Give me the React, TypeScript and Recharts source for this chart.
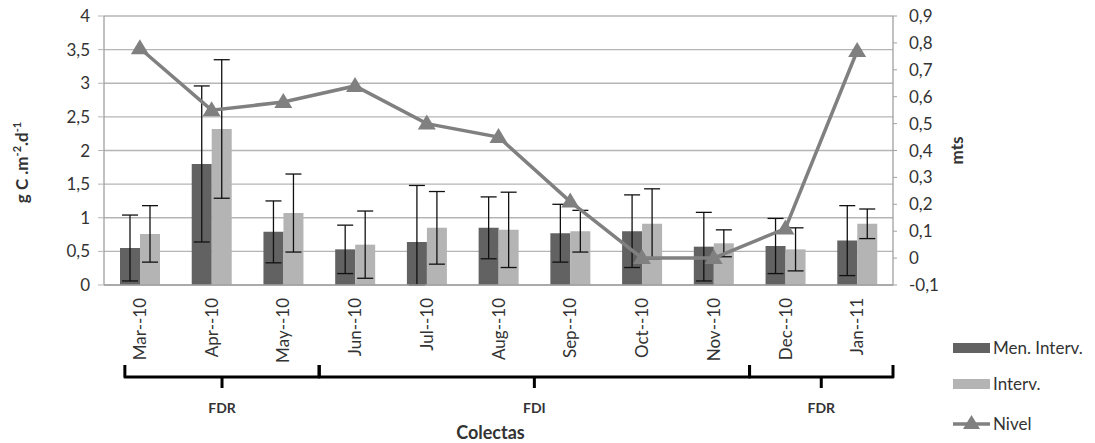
import React from "react";
import {
  ComposedChart,
  Bar,
  Line,
  XAxis,
  YAxis,
  CartesianGrid,
  ErrorBar,
  Legend,
  Label,
} from "recharts";

const months = [
  "Mar--10", "Apr--10", "May--10", "Jun--10", "Jul--10", "Aug--10",
  "Sep--10", "Oct--10", "Nov--10", "Dec--10", "Jan--11",
];
const menInterv = [0.55, 1.8, 0.79, 0.53, 0.64, 0.85, 0.77, 0.8, 0.57, 0.58, 0.66];
// [below, above]
const menIntervErr = [
  [0.49, 0.49], [1.16, 1.16], [0.46, 0.46], [0.36, 0.36], [0.64, 0.84], [0.46, 0.46],
  [0.43, 0.43], [0.54, 0.54], [0.51, 0.51], [0.41, 0.41], [0.52, 0.52],
];
const interv = [0.76, 2.32, 1.07, 0.6, 0.85, 0.82, 0.8, 0.91, 0.62, 0.53, 0.91];
const intervErr = [
  [0.42, 0.42], [1.03, 1.03], [0.58, 0.58], [0.5, 0.5], [0.54, 0.54], [0.56, 0.56],
  [0.31, 0.31], [0.52, 0.52], [0.2, 0.2], [0.32, 0.32], [0.22, 0.22],
];
const nivel = [0.78, 0.55, 0.58, 0.64, 0.5, 0.45, 0.21, 0.0, 0.0, 0.11, 0.77];

const leftTicks = [0, 0.5, 1, 1.5, 2, 2.5, 3, 3.5, 4];
const rightTicks = [-0.1, 0, 0.1, 0.2, 0.3, 0.4, 0.5, 0.6, 0.7, 0.8, 0.9];

// periods as month index ranges
const periodNames = ["FDR", "FDI", "FDR"];
const periodFirst = [0, 3, 9];
const periodLast = [2, 8, 10];

const data = months.map((m, i) => ({
  month: m,
  men: menInterv[i],
  menErr: menIntervErr[i],
  interv: interv[i],
  intervErr: intervErr[i],
  nivel: nivel[i],
}));

const FONT = "Lato, 'Open Sans', sans-serif";
const TXT = "#333";
const DARK = "#626262";
const LIGHT = "#b4b4b4";
const LINE = "#808080";
const comma = (v: number) => String(Math.round(v * 10) / 10).replace(".", ",");

const MonthTick = (props: any) => {
  const { x, y, payload } = props;
  return (
    <g transform={`translate(${x},${y})`}>
      <text
        transform="rotate(-90)"
        x={-11}
        y={0}
        dy="0.36em"
        textAnchor="end"
        fill={TXT}
        fontSize={17}
        fontFamily={FONT}
      >
        {payload.value}
      </text>
    </g>
  );
};

const XAnnotations = (props: any) => {
  const vb = props.viewBox;
  const band = vb.width / months.length;
  const top = vb.y + 80;
  const bar = vb.y + 92;
  const nub = vb.y + 103;
  return (
    <g>
      {periodNames.map((name, k) => {
        const x1 =
          k === 0
            ? vb.x + band * (periodFirst[k] + 0.5) - 15
            : vb.x + band * periodFirst[k];
        const x2 = vb.x + band * (periodLast[k] + 1);
        const mid = (x1 + x2) / 2;
        return (
          <g key={k}>
            <path
              d={`M${x1},${top} V${bar} H${x2} V${top} M${mid},${bar} V${nub}`}
              stroke="#000"
              strokeWidth={3}
              fill="none"
              strokeLinejoin="round"
            />
            <text
              x={mid}
              y={vb.y + 128}
              textAnchor="middle"
              fontWeight="bold"
              fontSize={14}
              fontFamily={FONT}
              fill={TXT}
            >
              {name}
            </text>
          </g>
        );
      })}
      <text
        x={vb.x + vb.width / 2 - 8}
        y={vb.y + 154}
        textAnchor="middle"
        fontWeight="bold"
        fontSize={18}
        fontFamily={FONT}
        fill={TXT}
      >
        Colectas
      </text>
    </g>
  );
};

const LeftTitle = (props: any) => {
  const vb = props.viewBox;
  const x = vb.x + 28;
  const y = vb.y + vb.height / 2 + 12;
  return (
    <text
      transform={`rotate(-90, ${x}, ${y})`}
      x={x}
      y={y}
      textAnchor="middle"
      fontWeight="bold"
      fontSize={17}
      fontFamily={FONT}
      fill={TXT}
    >
      g C .m
      <tspan dy={-7} fontSize={11}>-2</tspan>
      <tspan dy={7}>.d</tspan>
      <tspan dy={-7} fontSize={11}>-1</tspan>
    </text>
  );
};

const RightTitle = (props: any) => {
  const vb = props.viewBox;
  const x = vb.x + 70;
  const y = vb.y + vb.height / 2;
  return (
    <text
      transform={`rotate(-90, ${x}, ${y})`}
      x={x}
      y={y}
      textAnchor="middle"
      fontWeight="bold"
      fontSize={17}
      fontFamily={FONT}
      fill={TXT}
    >
      mts
    </text>
  );
};

const Triangle = (props: any) => {
  const { cx, cy, index } = props;
  if (cx == null || cy == null) return <g key={`t-${index}`} />;
  return (
    <path
      key={`t-${index}`}
      d={`M${cx},${cy - 9} L${cx + 9},${cy + 6} L${cx - 9},${cy + 6} Z`}
      fill={LINE}
    />
  );
};

const renderLegend = () => (
  <svg width={145} height={110} style={{ display: "block" }}>
    <rect x={3} y={13} width={37} height={10} fill={DARK} />
    <text x={43} y={24} fontSize={17} fontFamily={FONT} fill={TXT}>
      Men. Interv.
    </text>
    <rect x={3} y={49} width={37} height={10} fill={LIGHT} />
    <text x={43} y={60} fontSize={17} fontFamily={FONT} fill={TXT}>
      Interv.
    </text>
    <line x1={3} y1={94} x2={40} y2={94} stroke={LINE} strokeWidth={3.5} />
    <path d="M21.5,85 L30,99 L13,99 Z" fill={LINE} />
    <text x={43} y={100} fontSize={17} fontFamily={FONT} fill={TXT}>
      Nivel
    </text>
  </svg>
);

const App: React.FC = () => (
  <div style={{ position: "absolute", left: 0, top: 0, background: "#fff" }}>
    <ComposedChart
      width={1095}
      height={443}
      data={data}
      margin={{ top: 16, right: 0, left: 0, bottom: 0 }}
      barGap={0}
    >
      <CartesianGrid
        yAxisId="left"
        vertical={false}
        stroke="#b5b5b5"
        strokeWidth={1.3}
      />
      <XAxis
        dataKey="month"
        interval={0}
        height={158}
        tickLine={false}
        tickSize={0}
        axisLine={{ stroke: "#a0a0a0", strokeWidth: 1.3 }}
        tick={<MonthTick />}
      >
        <Label content={XAnnotations} />
      </XAxis>
      <YAxis
        yAxisId="left"
        width={104}
        domain={[0, 4]}
        ticks={leftTicks}
        interval={0}
        tickFormatter={comma}
        tickSize={6}
        tickMargin={8}
        tickLine={{ stroke: "#b5b5b5" }}
        axisLine={{ stroke: "#a0a0a0", strokeWidth: 1.3 }}
        tick={{ fill: TXT, fontSize: 17, fontFamily: FONT }}
      >
        <Label content={LeftTitle} />
      </YAxis>
      <YAxis
        yAxisId="right"
        orientation="right"
        width={202}
        domain={[-0.1, 0.9]}
        ticks={rightTicks}
        interval={0}
        tickFormatter={comma}
        tickSize={4}
        tickMargin={12}
        tickLine={{ stroke: "#a0a0a0" }}
        axisLine={{ stroke: "#a0a0a0", strokeWidth: 1.3 }}
        tick={{ fill: TXT, fontSize: 17, fontFamily: FONT, textAnchor: "start" }}
      >
        <Label content={RightTitle} />
      </YAxis>
      <Legend
        layout="horizontal"
        align="center"
        verticalAlign="middle"
        wrapperStyle={{ left: 950, top: 330, width: 145, height: 110 }}
        content={renderLegend}
      />
      <Bar
        yAxisId="left"
        dataKey="men"
        name="Men. Interv."
        fill={DARK}
        barSize={20}
        isAnimationActive={false}
      >
        <ErrorBar dataKey="menErr" width={8} stroke="#111" strokeWidth={1.3} />
      </Bar>
      <Bar
        yAxisId="left"
        dataKey="interv"
        name="Interv."
        fill={LIGHT}
        barSize={20}
        isAnimationActive={false}
      >
        <ErrorBar dataKey="intervErr" width={8} stroke="#111" strokeWidth={1.3} />
      </Bar>
      <Line
        yAxisId="right"
        dataKey="nivel"
        name="Nivel"
        stroke={LINE}
        strokeWidth={3.5}
        dot={Triangle}
        activeDot={false}
        isAnimationActive={false}
      />
    </ComposedChart>
  </div>
);

export default App;
